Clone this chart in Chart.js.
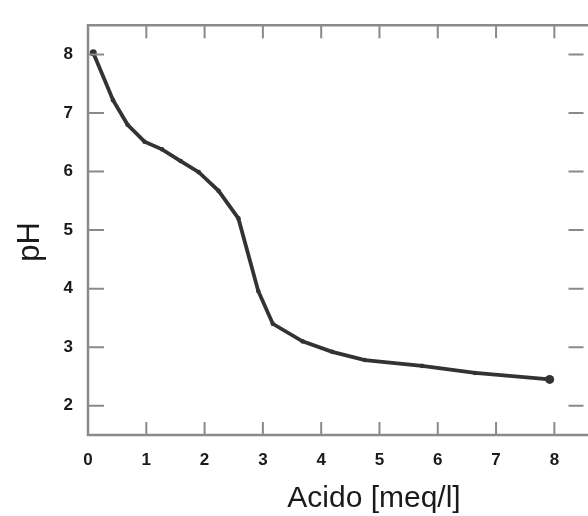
<!DOCTYPE html>
<html>
<head>
<meta charset="utf-8">
<script src="https://cdn.jsdelivr.net/npm/chart.js@4.4.1/dist/chart.umd.min.js"></script>
<style>
  html, body { margin: 0; padding: 0; background: #fff; }
  #wrap { width: 588px; height: 516px; }
</style>
</head>
<body>
<div id="wrap"><canvas id="ChartTitolazione" width="588" height="516"></canvas></div>
<script>
// acido aggiunto [meq/l] e pH
var acido = [0.09, 0.43, 0.68, 0.97, 1.27, 1.59, 1.90, 2.24, 2.58, 2.92, 3.17, 3.68, 4.19, 4.75, 5.73, 6.64, 7.92];
var ph    = [8.03, 7.22, 6.80, 6.51, 6.38, 6.18, 5.99, 5.67, 5.20, 3.96, 3.40, 3.10, 2.92, 2.78, 2.68, 2.56, 2.45];
var xTicks = [0, 1, 2, 3, 4, 5, 6, 7, 8];
var yTicks = [2, 3, 4, 5, 6, 7, 8];

var punti = acido.map(function (x, i) { return { x: x, y: ph[i] }; });

// cornice con tacche interne sui lati + titoli degli assi
var cornice = {
    id: 'cornice',
    afterDraw: function (chart) {
        var ctx = chart.ctx;
        var a = chart.chartArea;
        var sx = chart.scales.x, sy = chart.scales.y;
        ctx.save();
        ctx.strokeStyle = '#8a8a8a';
        ctx.lineWidth = 2.5;
        ctx.beginPath();
        ctx.moveTo(a.right + 5, a.top); ctx.lineTo(a.left, a.top);
        ctx.lineTo(a.left, a.bottom); ctx.lineTo(a.right + 5, a.bottom);
        ctx.stroke();
        ctx.lineWidth = 2;
        ctx.beginPath();
        xTicks.forEach(function (v) {
            if (v === 0) return;
            var px = sx.getPixelForValue(v);
            ctx.moveTo(px, a.bottom); ctx.lineTo(px, a.bottom - 13);
            ctx.moveTo(px, a.top); ctx.lineTo(px, a.top + 13);
        });
        yTicks.forEach(function (v) {
            var py = sy.getPixelForValue(v);
            ctx.moveTo(a.left, py); ctx.lineTo(a.left + 16, py);
            ctx.moveTo(a.right, py); ctx.lineTo(a.right - 15, py);
        });
        ctx.stroke();

        ctx.fillStyle = '#1a1a1a';
        ctx.font = '30px "Liberation Sans", Arial, sans-serif';
        ctx.textAlign = 'center';
        ctx.textBaseline = 'alphabetic';
        ctx.fillText('Acido [meq/l]', 374, 507);
        ctx.translate(39, 242);
        ctx.rotate(-Math.PI / 2);
        ctx.font = '31px "Liberation Sans", Arial, sans-serif';
        ctx.fillText('pH', 0, 0);
        ctx.restore();
    }
};

var ctx = document.getElementById('ChartTitolazione').getContext('2d');
var ChartTitolazione = new Chart(ctx, {
    type: 'scatter',
    data: {
        datasets: [{
            label: 'pH',
            data: punti,
            showLine: true,
            tension: 0,
            borderColor: '#333333',
            borderWidth: 3.8,
            backgroundColor: '#333333',
            pointRadius: function (c) { return c.dataIndex === punti.length - 1 ? 4.5 : (c.dataIndex === 0 ? 3.5 : 2.3); },
            pointBorderWidth: 0
        }]
    },
    options: {
        responsive: false,
        animation: false,
        layout: { padding: { top: 15, right: -2, left: 0, bottom: 0 } },
        plugins: {
            legend: { display: false },
            tooltip: { enabled: false }
        },
        scales: {
            x: {
                type: 'linear',
                min: 0,
                max: 8.5,
                afterBuildTicks: function (s) { s.ticks = xTicks.map(function (v) { return { value: v }; }); },
                afterFit: function (s) { s.height = 81; },
                grid: { display: false, drawTicks: false },
                border: { display: false },
                ticks: {
                    padding: 15,
                    color: '#1a1a1a',
                    font: { family: '"Liberation Sans", Arial, sans-serif', size: 17, weight: 'bold' }
                }
            },
            y: {
                type: 'linear',
                min: 1.5,
                max: 8.5,
                afterBuildTicks: function (s) { s.ticks = yTicks.map(function (v) { return { value: v }; }); },
                afterFit: function (s) { s.width = 88; },
                grid: { display: false, drawTicks: false },
                border: { display: false },
                ticks: {
                    padding: 15,
                    color: '#1a1a1a',
                    font: { family: '"Liberation Sans", Arial, sans-serif', size: 17, weight: 'bold' }
                }
            }
        }
    },
    plugins: [cornice]
});
</script>
</body>
</html>
